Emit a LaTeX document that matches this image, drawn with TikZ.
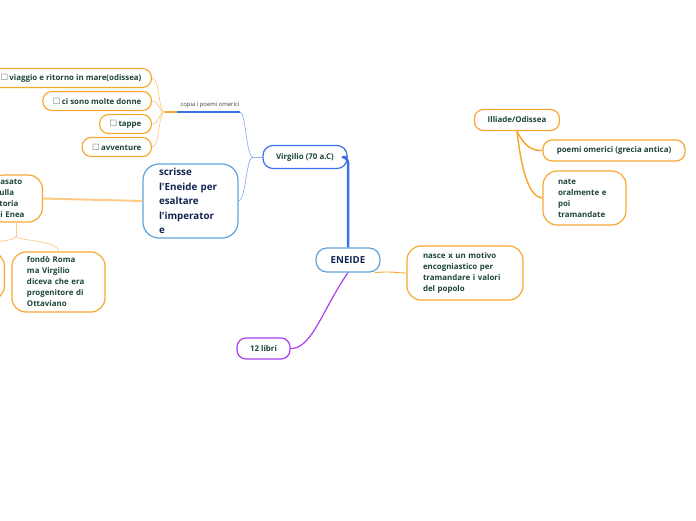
\documentclass[tikz,border=0pt]{standalone}
\usepackage{fontspec}
\setmainfont{Open Sans}[Ligatures=TeXOff]
\newfontfamily\symfont{DejaVu Sans}
\usepackage{xcolor}
\definecolor{maporange}{HTML}{F8A832}
\definecolor{lightorange}{HTML}{FCCB85}
\definecolor{mapblue}{HTML}{3B72E8}
\definecolor{lightblue}{HTML}{5FA3DC}
\definecolor{paleblue}{HTML}{8FB0F5}
\definecolor{mappurple}{HTML}{A83FF2}
\definecolor{textgreen}{HTML}{1D4536}
\definecolor{textnavy}{HTML}{0F2450}
\definecolor{boxgray}{HTML}{5E7A6C}
\newcommand{\chk}{{\symfont\color{boxgray}\fontsize{8.5}{8.5}\selectfont ☐}\,}

\begin{document}
\begin{tikzpicture}[x=1pt, y=-1pt,
  box/.style={draw=maporange, line width=1.2pt, rounded corners=9pt, fill=white,
              font=\bfseries\fontsize{7.9}{11}\selectfont, text=textgreen,
              inner xsep=10pt, inner ysep=3pt, minimum height=19pt},
  multi/.style={box, align=left, rounded corners=14pt},
  link/.style={draw=lightorange, line width=0.7pt},
  twig/.style={draw=paleblue, line width=0.7pt}
]
  \useasboundingbox (0,0) rectangle (696,520);
  \clip (0,0) rectangle (696,520);

  \node[box, draw=lightblue, text=textnavy, font=\bfseries\fontsize{9.7}{11}\selectfont,
        minimum width=64pt, minimum height=24pt, rounded corners=11pt] (eneide) at (348,260) {ENEIDE};
  \node[box, draw=mapblue, minimum width=84pt, minimum height=23pt, rounded corners=10pt] (virgilio) at (305,157) {Virgilio (70 a.C)};
  \node[box, draw=mappurple, minimum width=53pt, minimum height=21pt] (libri) at (263.5,348.5) {12 libri};
  \node[multi, minimum width=116pt, minimum height=54pt, inner xsep=16pt, text width=84pt] (nasce) at (465,273)
    {nasce x un motivo\\encogniastico per\\tramandare i valori\\del popolo};

  \node[multi, draw=lightblue, text=textnavy, font=\bfseries\fontsize{9.8}{14.5}\selectfont,
        minimum height=74pt, inner xsep=16pt, text width=63pt, rounded corners=16pt] (scrisse) at (190.5,201)
    {scrisse\\l'Eneide per\\esaltare\\l'imperator\\e};
  \node[font=\fontsize{5.9}{7}\selectfont, text=black!75] (copia) at (210,105) {copia i poemi omerici};

  \node[box, anchor=east] (viaggio) at (152,78) {\chk viaggio e ritorno in mare(odissea)};
  \node[box, anchor=east] (donne) at (152,101) {\chk ci sono molte donne};
  \node[box, anchor=east] (tappe) at (152,124) {\chk tappe};
  \node[box, anchor=east] (avventure) at (152,147) {\chk avventure};

  \node[multi, anchor=east, minimum height=47pt, inner xsep=6pt, text width=41pt] (pasato) at (43,198.5)
    {pasato\\sulla\\storia\\di Enea};
  \node[multi, minimum width=93pt, minimum height=60pt, inner xsep=15pt, text width=63pt] (fondo) at (58.5,282)
    {fondò Roma\\ma Virgilio\\diceva che era\\progenitore di\\Ottaviano};
  \node[multi, anchor=east, minimum width=60pt, minimum height=48pt] (nascosto) at (5,276) {};

  \node[box, minimum width=85pt, minimum height=21pt] (illiade) at (517,120) {Illiade/Odissea};
  \node[box, minimum width=142pt, minimum height=21pt] (poemi) at (614,150.5) {poemi omerici (grecia antica)};
  \node[multi, minimum width=83pt, minimum height=54pt, inner xsep=15pt, text width=53pt] (nate) at (584.5,198)
    {nate\\oralmente e\\poi\\tramandate};

  \coordinate (hubV) at (253,157);
  \coordinate (copiaR) at (240,112);
  \coordinate (copiaL) at (177,112);
  \coordinate (hubC) at (165,112);
  \coordinate (hubP) at (pasato.south |- 0,236);

  \draw[mapblue, line width=2.5pt, rounded corners=6pt] (virgilio.east) -| (eneide.north);
  \draw[mappurple, line width=1.2pt] (eneide.south) .. controls (322,310) and (312,349) .. (libri.east);
  \draw[maporange, line width=0.9pt] (eneide.-25) .. controls (392,271) and (396,273) .. (nasce.west);

  \draw[twig] (virgilio.west) -- (hubV);
  \draw[twig] (hubV) .. controls (246,157) and (246,112) .. (copiaR);
  \draw[twig] (hubV) .. controls (246,157) and (246,200) .. (scrisse.east);
  \draw[mapblue, line width=1.8pt] (copiaR) -- (copiaL);
  \draw[maporange, line width=1.8pt] (copiaL) -- (hubC);
  \foreach \item in {viaggio, donne, tappe, avventure}
    \draw[link] (hubC) .. controls (158,112) and (160,0 |- \item.east) .. (\item.east);

  \draw[lightorange, line width=2pt] (pasato.east) -- (scrisse.west);
  \draw[link] (pasato.south) -- (hubP);
  \draw[link] (hubP) .. controls (pasato.south |- 0,244) and (nascosto.north |- 0,238) .. (nascosto.north);
  \draw[link] (hubP) .. controls (pasato.south |- 0,241) and (fondo.north |- 0,240) .. (fondo.north);

  \draw[maporange, line width=1.5pt] (illiade.south) .. controls (524,146) and (532,151) .. (poemi.west);
  \draw[maporange, line width=1.5pt] (illiade.south) .. controls (522,175) and (530,197) .. (nate.west);
\end{tikzpicture}
\end{document}
